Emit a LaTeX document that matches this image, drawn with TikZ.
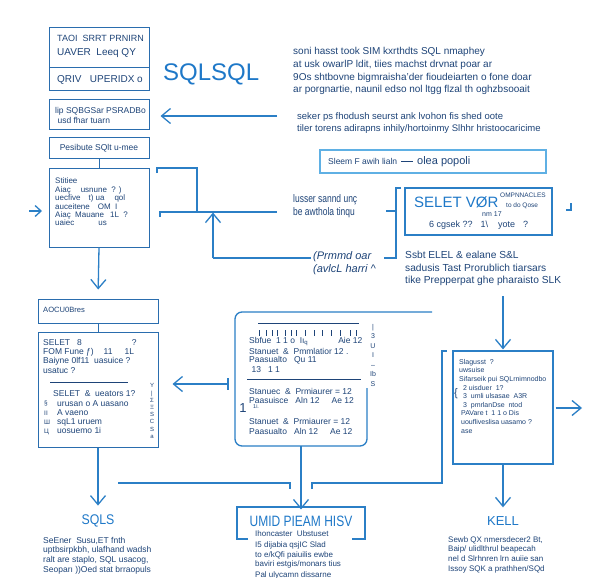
\documentclass[tikz,border=0pt]{standalone}
\usepackage{fontspec}
\setmainfont{Liberation Sans}
\usetikzlibrary{arrows.meta}
\definecolor{lineblue}{HTML}{2B7FC6}
\definecolor{boxblue}{HTML}{2A6DAE}
\definecolor{txtnavy}{HTML}{1E4478}
\definecolor{titleblue}{HTML}{1E78C8}
\definecolor{lightblue}{HTML}{5FB0E4}
\newcommand{\fsz}[2]{\fontsize{#1}{#2}\selectfont}
\begin{document}
\begin{tikzpicture}[x=1pt,y=-1pt,
  box/.style={draw=boxblue, line width=1pt, inner sep=0pt},
  lbox/.style={draw=lightblue, line width=1.2pt, inner sep=0pt},
  tx/.style={text=txtnavy, inner sep=0pt, align=left},
  ttl/.style={text=titleblue, inner sep=0pt},
  conn/.style={draw=lineblue, line width=1.3pt},
  arr/.style={conn, -{Straight Barb[length=9pt,width=15pt,line width=1.3pt]}},
  sarr/.style={conn, -{Straight Barb[length=6pt,width=11pt,line width=1.3pt]}},
  ]
\useasboundingbox (0,0) rectangle (614,578);
\fill[white] (0,0) rectangle (614,578);

% ---------- top-left box
\node[box, minimum width=100pt, minimum height=63pt] (b1) at (99,59.5) {};
\draw[boxblue, line width=1pt] (49,68) -- (149,68);
\node[tx, anchor=west, font=\fsz{9}{11}] (b1t1) at (57,38) {TAOI\ \ SRRT PRNIRN};
\node[tx, anchor=west, font=\fsz{10}{12}] (b1t2) at (57,53) {UAVER\ \ Leeq QY};
\node[tx, anchor=west, font=\fsz{10}{12}] (b1t3) at (57,80) {QRIV\ \ \ UPERIDX o};

\node[ttl, anchor=west, font=\fsz{24}{28}] (sqltitle) at (163,74) {SQLSQL};

\node[tx, anchor=north west, font=\fsz{10}{12.8}] (para1) at (293,47) {soni hasst took SIM kxrthdts SQL nmaphey\\ at usk owarlP ldit, tiies machst drvnat poar ar\\ 9Os shtbovne bigmraisha'der fioudeiarten o fone doar\\ ar porgnartie, naunil edso nol ltgg flzal th oghzbsooait};
\node[tx, anchor=north west, font=\fsz{9.5}{12.5}] (para2) at (297,112) {seker ps fhodush seurst ank lvohon fis shed oote\\ tiler torens adirapns inhily/hortoinmy Slhhr hristoocaricime};

% ---------- box 2
\node[box, minimum width=100pt, minimum height=30pt] (b2) at (99,115) {};
\node[tx, anchor=north west, font=\fsz{8.5}{10}] (b2t) at (55,107) {lip SQBGSar PSRADBo\\ \ usd fhar tuarn};
\coordinate (a2s) at (277,116);
\draw[arr, shorten >=11pt] (a2s) -- (a2s -| b2.east);

% ---------- box 3
\node[box, minimum width=100pt, minimum height=20pt] (b3) at (99,148) {};
\node[tx, font=\fsz{8.5}{10}] (b3t) at (b3) {Pesibute SQlt u-mee};

% ---------- box 4
\node[box, minimum width=100pt, minimum height=79pt] (b4) at (99,207.5) {};
\draw[boxblue, line width=1pt] (b3.south) -- (b4.north);
\node[tx, anchor=north west, font=\fsz{8}{8.4}] (b4t) at (55,178) {Stitiee\\ Aiaç\hspace{10pt}usnune\ \ ? )\\ uecfive\hspace{8pt}t) ua\hspace{10pt}qol\\ auceitene\hspace{8pt}OM\ \ I\\ Aiaç\ \ Mauane\hspace{6pt}1L\ \ ?\\ uaiec\hspace{24pt}us};
\coordinate (a4s) at (29,211);
\coordinate (a4e) at (42,211);
\draw[sarr] (a4s) -- (a4e);

% bracket lines around box 4
\coordinate (k1) at (157,173);
\coordinate (k2) at (197,212);
\coordinate (k3) at (160,217);
\coordinate (k4) at (277,212);
\coordinate (k5) at (213,258);
\coordinate (k6) at (311,258);
\draw[conn] (k1) -- (157,168) -- (197,168) -- (k2);
\draw[conn] (k3) -- (160,212) -- (k4);
\draw[arr] (k5) -- (213,212.6);
\draw[conn] (k5) -- (k6);

\node[tx, anchor=north west, font=\fsz{11}{13}] (lus) at (293,193) {\scalebox{0.77}[1]{\begin{tabular}{@{}l@{}}lusser sannd unç\\ be awthola tinqu\end{tabular}}};
\node[tx, anchor=north west, font=\fsz{11}{13}\itshape] (prm) at (313,251) {(Prmmd oar\\ (avlcL harri \^{}};

\coordinate (r1) at (401,188);
\coordinate (r2) at (384,258);
\coordinate (r3) at (386,211);
\draw[conn] (r1) -- (396,188) -- (396,258) -- (r2);
\draw[conn] (r3) -- (396,211);

% ---------- Sleem box
\node[lbox, minimum width=226pt, minimum height=23pt] (sleem) at (433,161.5) {};
\node[tx, anchor=west] (sleemt) at (328,162) {{\fsz{8.5}{10}Sleem F awih lialn}\hspace{4pt}\rule[3pt]{12pt}{0.6pt}\hspace{4pt}{\fsz{11}{13}olea popoli}};

% ---------- SELET box
\node[draw=lineblue, line width=1.2pt, inner sep=0pt, minimum width=147pt, minimum height=47pt] (selet) at (478.5,211.5) {};
\node[ttl, anchor=west, font=\fsz{15}{18}] (selett) at (414,202) {SELET VØR};
\node[tx, anchor=west, font=\fsz{6.5}{7}] (sel1) at (500,195.5) {OMPNNACLES};
\node[tx, anchor=west, font=\fsz{6.5}{7}] (sel2) at (506,205.5) {to do Qose};
\node[tx, anchor=west, font=\fsz{7}{8}] (sel3) at (482,214.5) {nm 17};
\node[tx, anchor=west, font=\fsz{9}{11}] (sel4) at (429,225) {6 cgsek ??\hspace{8pt}1\textbackslash\hspace{10pt}yote\hspace{8pt}?};
\coordinate (c1) at (566,210);
\coordinate (c2) at (571,203);
\draw[conn] (c1) -- (571,210) -- (c2);

\node[tx, anchor=north west, font=\fsz{10.2}{12.6}] (ssbt) at (405,251) {Ssbt ELEL \& ealane S\&L\\ sadusis Tast Prorublich tiarsars\\ tike Prepperpat ghe pharaisto SLK};

% ---------- AOCU box and box 6
\node[box, minimum width=120pt, minimum height=24pt] (b5) at (98,311) {};
\node[tx, anchor=west, font=\fsz{7.6}{9}] (b5t) at (43,310) {AOCU0Bres};
\draw[arr, shorten >=9pt] (b4.south) -- (b5.north);

\node[box, minimum width=120pt, minimum height=115pt] (b6) at (98,389.5) {};
\draw[boxblue, line width=1pt] (b5.south) -- (b6.north);
\node[tx, anchor=north west, font=\fsz{8.5}{9.4}] (b6t1) at (43,339) {SELET\ \ \ 8\hspace{50pt}?\\ FOM Fune ƒ)\hspace{10pt}11\hspace{12pt}1L\\ Baiyne 0lf11\ \ uasuice ?\\ usatuc ?};
\draw[txtnavy, line width=0.8pt] (50,382) -- (128,382);
\node[tx, anchor=north west, font=\fsz{8.5}{9.4}] (b6t2) at (53,390) {SELET\ \ \&\ \ ueators 1?};
\node[tx, anchor=north west, font=\fsz{8.5}{9.2}] (b6t3) at (57,400) {urusan o A uasano\\ A vaeno\\ sqL1 uruem\\ uosuemo 1i};
\node[tx, anchor=north west, font=\fsz{6.5}{9.2}] (b6t4) at (44,401) {§\\ II\\ Ш\\ Ц};
\node[tx, align=center, font=\fsz{6}{7.2}] (b6t5) at (152,411) {Y\\ |\\ Σ\\ Ξ\\ S\\ C\\ S\\ a};
\coordinate (a6s) at (228,384);
\draw[arr, shorten >=14pt] (a6s) -- (a6s -| b6.east);
\draw[conn] (228,378) -- (228,390);

% ---------- middle rounded box
\node[inner sep=0pt, minimum width=132pt, minimum height=134pt] (mid) at (301,379) {};
\draw[conn, rounded corners=7pt] (367,388) -- (367,446) -- (235,446) -- (235,312) -- (432,312);
\draw[txtnavy, line width=0.8pt] (258,323) -- (359,323);
\foreach \xx in {259,266,272,277,285,291,296,305,314,322,331,340,350,356}
  \draw[txtnavy, line width=0.5pt] (\xx,330) -- (\xx,336);
\begin{scope}[every node/.style={tx, anchor=west, font=\fsz{8.5}{10}}]
\node (m1) at (249,342) {Sbfue\ \ 1 1 o\ \ Iı\textsubscript{q}\hspace{30pt}Aie 12};
\node (m2) at (249,351) {Stanuet\ \ \&\ \ Pmmlatior 12 .};
\node (m3) at (249,360) {Paasualto\ \ \ Qu 11};
\node (m4) at (249,370) {\ 13\ \ \ 1 1};
\node (m5) at (249,391) {Stanuec\ \ \&\ \ Prmiaurer = 12};
\node (m6) at (249,400) {Paasuisce\ \ \ Aln 12\hspace{12pt}Ae 12};
\node (m8) at (249,421) {Stanuet\ \ \&\ \ Prmiaurer = 12};
\node (m9) at (249,431) {Paasualto\ \ \ Aln 12\hspace{12pt}Ae 12};
\end{scope}
\draw[txtnavy, line width=0.8pt] (247,379) -- (361,379);
\node[tx, anchor=west, font=\fsz{5.5}{6}] (m7) at (253,407) {1i.};
\node[tx, font=\fsz{13}{14}] (m10) at (243,408) {1};
\node[tx, align=center, font=\fsz{7}{9.5}] (m11) at (373,355) {|\\ 3\\ U\\ I\\ –\\ Ib\\ S};

% ---------- lines at y 483
\coordinate (l1) at (118,483);
\coordinate (l2) at (290,489);
\coordinate (l3) at (312,489);
\coordinate (l4) at (447,351);
\draw[conn] (l1) -- (290,483) -- (l2);
\draw[conn] (l3) -- (312,483) -- (442,483) -- (442,351) -- (l4);

% ---------- right box
\node[draw=lineblue, line width=1.2pt, inner sep=0pt, minimum width=100pt, minimum height=113pt] (rb) at (503,407.5) {};
\coordinate (rbin) at (503,296);
\draw[arr, shorten >=1pt] (rbin) -- (rb.north);
\node[tx, anchor=north west, font=\fsz{7}{8.6}] (rbt) at (459,359) {Slagusst\ \ ?\\ uwsuise\\ Sifarseik pui SQLrnimnodbo\\ \ \ 2 uisduer\ \ 1?\\ \ \ 3\ \ umli ulsasae\ \ A3R\\ \ \ 3\ \ pmrlanDse\ \ ntod\\ \ PAVare t\ \ 1 1 o Dis\\ \ uoufliveslisa uasamo ?\\ \ ase};
\node[tx, font=\fsz{11}{11}] (rbb) at (456,394) {\{};
\coordinate (rbout) at (582,408);
\draw[arr, shorten <=2pt] (rbout -| rb.east) -- (rbout);

% ---------- bottom titles
\node[ttl, font=\fsz{14}{16}] (sqls) at (98,521) {\scalebox{0.88}[1]{SQLS}};
\node[ttl, font=\fsz{15}{17}] (umid) at (301,521) {\scalebox{0.8}[1]{UMID PIEAM HISV}};
\node[ttl, font=\fsz{13}{15}] (kell) at (503,521) {KELL};
\draw[conn] (248,539) -- (237,539) -- (237,507) -- (365,507) -- (365,539) -- (352,539);
\draw[arr, shorten >=9pt] (b6.south) -- (sqls.north);
\draw[arr, shorten >=6pt] (mid.south) -- (umid.north);
\draw[arr, shorten >=9pt] (rb.south) -- (kell.north);

\node[tx, anchor=north west, font=\fsz{8.5}{9.6}] (sqlsp) at (43,537) {SeEner\ \ Susu,ET fnth\\ uptbsirpkbh, ulafhand wadsh\\ ralt are staplo, SQL usacog,\\ Seoparı ))Oed stat brraopuls};
\node[tx, anchor=north west, font=\fsz{8}{10}] (umidp) at (255,531) {Ihoncaster\ \ Ubstuset\\ I5 dijabia qsjIC Slad\\ to e/kQfi paiuilis ewbe\\ baviri estgis/monars tius\\ Pal ulycamn dissarne};
\node[tx, anchor=north west, font=\fsz{8}{9.7}] (kellp) at (448,536) {Sewb QX nmersdecer2 Bt,\\ Baip/ ulidlthrul beapecah\\ nel d Slrhnren lrn auiie san\\ Issoy SQK a prathhen/SQd};
\end{tikzpicture}
\end{document}
